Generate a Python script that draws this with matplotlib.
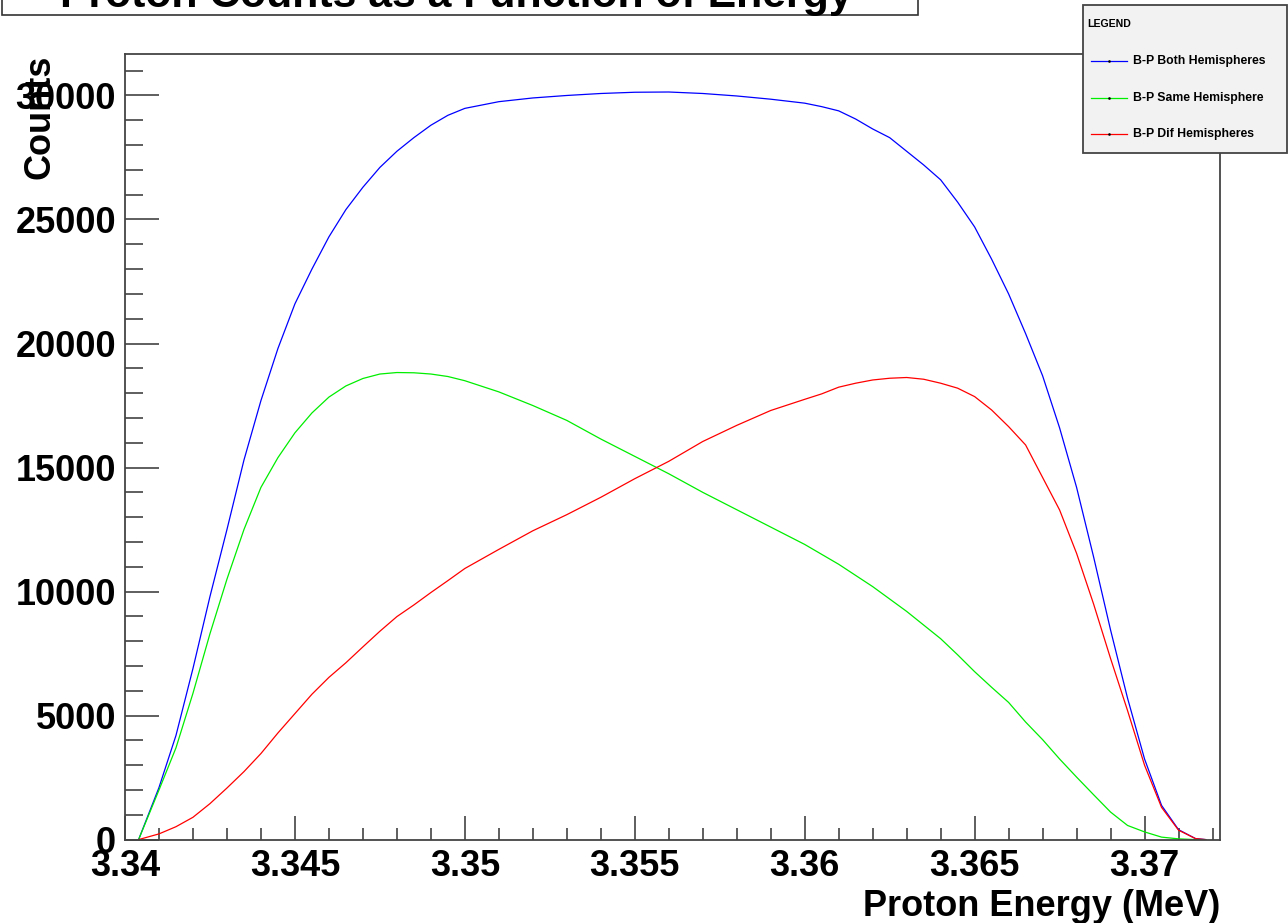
import matplotlib
matplotlib.use("Agg")
import matplotlib.pyplot as plt
from matplotlib.ticker import MultipleLocator, FuncFormatter
from matplotlib.patches import Rectangle
from matplotlib.lines import Line2D

plt.rcParams['font.family'] = ['Liberation Sans', 'DejaVu Sans']

# ---------------- data ----------------
title = "Proton Counts as a Function of Energy"
xlabel = "Proton Energy (MeV)"
ylabel = "Counts"
series_labels = ["B-P Both Hemispheres", "B-P Same Hemisphere", "B-P Dif Hemispheres"]
series_colors = ["#0000ff", "#00ee00", "#ff0000"]

energy = [3.3404, 3.341, 3.3415, 3.342, 3.3425, 3.343, 3.3435, 3.344, 3.3445, 3.345,
          3.3455, 3.346, 3.3465, 3.347, 3.3475, 3.348, 3.3485, 3.349, 3.3495, 3.350,
          3.351, 3.352, 3.353, 3.354, 3.355, 3.356, 3.357, 3.358, 3.359,
          3.360, 3.3605, 3.361, 3.3615, 3.362, 3.3625, 3.363, 3.3635, 3.364, 3.3645,
          3.365, 3.3655, 3.366, 3.3665, 3.367, 3.3675, 3.368, 3.3685, 3.369, 3.3695,
          3.370, 3.3705, 3.371, 3.3715, 3.3718]

both_hemispheres = [0, 2100, 4200, 6900, 9800, 12500, 15300, 17700, 19800, 21600,
                    23000, 24300, 25400, 26300, 27100, 27750, 28300, 28800, 29200, 29480,
                    29750, 29900, 30000, 30080, 30130, 30140, 30080, 29980, 29850,
                    29690, 29550, 29380, 29050, 28650, 28300, 27750, 27200, 26600, 25700,
                    24700, 23400, 22000, 20400, 18700, 16600, 14200, 11400, 8450, 5700,
                    3250, 1380, 400, 40, 0]

same_hemisphere = [0, 2000, 3700, 5900, 8300, 10500, 12500, 14200, 15400, 16400,
                   17200, 17840, 18290, 18590, 18770, 18830, 18820, 18770, 18670, 18500,
                   18050, 17500, 16900, 16150, 15450, 14750, 14000, 13300, 12600,
                   11900, 11500, 11100, 10650, 10200, 9700, 9200, 8650, 8100, 7450,
                   6770, 6140, 5530, 4740, 4030, 3250, 2520, 1810, 1110, 570,
                   310, 100, 30, 0, 0]

dif_hemispheres = [0, 230, 520, 900, 1450, 2080, 2740, 3470, 4300, 5080,
                   5860, 6540, 7130, 7770, 8400, 8990, 9460, 9960, 10440, 10930,
                   11700, 12450, 13100, 13800, 14550, 15250, 16050, 16700, 17300,
                   17750, 17970, 18240, 18400, 18530, 18600, 18630, 18560, 18400, 18200,
                   17860, 17320, 16650, 15910, 14600, 13290, 11540, 9500, 7300, 5200,
                   3000, 1300, 380, 40, 0]

series = [both_hemispheres, same_hemisphere, dif_hemispheres]

xlim = (3.34, 3.37222)
ylim = (0, 31660)

# ---------------- figure ----------------
W, H = 1288, 923
fig = plt.figure(figsize=(W / 100, H / 100), dpi=100)
fig.patch.set_facecolor("white")

ax_l, ax_r, ax_t, ax_b = 125, 1220, 54.3, 839.6
ax = fig.add_axes([ax_l / W, 1 - ax_b / H, (ax_r - ax_l) / W, (ax_b - ax_t) / H])

for vals, col, lab in zip(series, series_colors, series_labels):
    ax.plot(energy, vals, color=col, lw=0.9, label=lab, solid_joinstyle='round')

ax.set_xlim(*xlim)
ax.set_ylim(*ylim)

frame_col = "#444444"
for s in ax.spines.values():
    s.set_color(frame_col)
    s.set_linewidth(1.3)

ax.xaxis.set_major_locator(MultipleLocator(0.005))
ax.xaxis.set_minor_locator(MultipleLocator(0.001))
ax.yaxis.set_major_locator(MultipleLocator(5000))
ax.yaxis.set_minor_locator(MultipleLocator(1000))
ax.xaxis.set_major_formatter(FuncFormatter(lambda v, p: "%g" % round(v, 4)))
ax.yaxis.set_major_formatter(FuncFormatter(lambda v, p: "%d" % round(v)))

ax.tick_params(axis='x', which='major', direction='in', length=17, width=1.1,
               color="#333333", pad=7, labelsize=26)
ax.tick_params(axis='x', which='minor', direction='in', length=8.5, width=1.1,
               color="#333333")
ax.tick_params(axis='y', which='major', direction='in', length=24.5, width=1.1,
               color="#333333", pad=6.5, labelsize=26)
ax.tick_params(axis='y', which='minor', direction='in', length=13, width=1.1,
               color="#333333")
for lbl in ax.get_xticklabels() + ax.get_yticklabels():
    lbl.set_fontweight('bold')

# axis labels
fig.text(ax_r / W, 1 - 916 / H, xlabel, ha='right', va='baseline',
         fontsize=26, fontweight='bold')
fig.text(40 / W, 1 - ax_t / H, ylabel, ha='center', va='top', rotation=90,
         fontsize=26, fontweight='bold')

# title box (cut off at the top, as in the reference)
fig.patches.append(Rectangle((2.4 / W, 1 - 15.3 / H), (918 - 2.4) / W, 0.06,
                             transform=fig.transFigure, facecolor='white',
                             edgecolor='#333333', lw=1.2, zorder=3))
fig.text(456.5 / W, 1 - 7.5 / H, title, ha='center', va='baseline',
         fontsize=30.8, fontweight='bold', zorder=4)

# legend box
lx0, lx1, ly0, ly1 = 1082.7, 1287, 5, 153.3
fig.patches.append(Rectangle((lx0 / W, 1 - ly1 / H), (lx1 - lx0) / W, (ly1 - ly0) / H,
                             transform=fig.transFigure, facecolor='#f2f2f2',
                             edgecolor='#444444', lw=1.3, zorder=5))
fig.text(1087.7 / W, 1 - 24.3 / H, "LEGEND", ha='left', va='center',
         fontsize=7.6, fontweight='bold', zorder=6)
entry_y = [60.7, 97.7, 134.3]
for yy, col, lab in zip(entry_y, series_colors, series_labels):
    fy = 1 - yy / H
    fig.add_artist(Line2D([1090.7 / W, 1126.7 / W], [fy, fy], color=col, lw=0.9,
                          transform=fig.transFigure, zorder=6))
    fig.add_artist(Line2D([1108.7 / W], [fy], color='black', marker='s', markersize=0.8,
                          lw=0, transform=fig.transFigure, zorder=7))
    fig.text(1133.3 / W, fy, lab, ha='left', va='center', fontsize=8.8,
             fontweight='bold', zorder=6)

fig.savefig("out.png", dpi=100)
